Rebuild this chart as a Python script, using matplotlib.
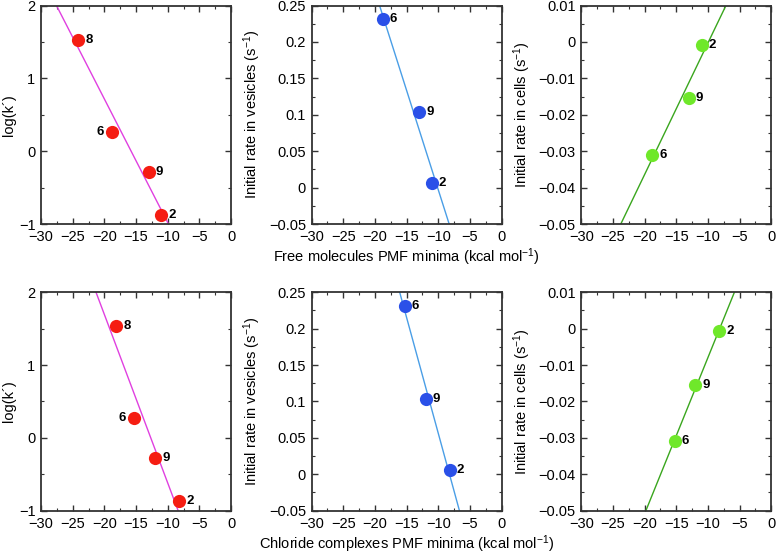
import numpy as np
import matplotlib
matplotlib.use('Agg')
from matplotlib import pyplot as plt
from matplotlib.ticker import MultipleLocator, FuncFormatter

plt.rcParams['font.family'] = ['Liberation Sans', 'DejaVu Sans']
plt.rcParams['mathtext.fontset'] = 'custom'
plt.rcParams['mathtext.rm'] = 'Liberation Sans'
plt.rcParams['mathtext.default'] = 'regular'

# compounds 2, 6, 8, 9
compounds = ['2', '6', '8', '9']
free_pmf = [-11.0, -18.8, -24.1, -13.0]
chloride_pmf = [-8.2, -15.25, -18.1, -11.95]
log_k = [-0.87, 0.27, 1.53, -0.28]
vesicle_rate = [0.006, 0.231, np.nan, 0.104]
cell_rate = [-0.0007, -0.031, np.nan, -0.0155]

row_pmf = [free_pmf, chloride_pmf]
row_xlabel = ['Free molecules PMF minima (kcal mol$^{-1}$)',
              'Chloride complexes PMF minima (kcal mol$^{-1}$)']

cols = [
    # values, ylabel, ylim, major, minor, marker colour, line colour, labels left of point
    (log_k, "log(k\u00b4)", (-1, 2), 1, 0.5, '#f51d12', '#e040e0', ['6']),
    (vesicle_rate, 'Initial rate in vesicles (s$^{-1}$)', (-0.05, 0.25), 0.05, 0.025, '#2a50e8', '#4a9ee6', []),
    (cell_rate, 'Initial rate in cells (s$^{-1}$)', (-0.05, 0.01), 0.01, 0.005, '#6fe82a', '#3aa61e', []),
]

def tickfmt(v, p):
	if abs(v) < 1e-9:
		return '0'
	return ('%g' % round(v, 6)).replace('-', '\u2212')

fmt = FuncFormatter(tickfmt)

fig = plt.figure(figsize=(7.77, 5.56), dpi=100)
lefts = [0.0528, 0.401, 0.748]
bottoms = [0.597, 0.0815]

for r in range(2):
	xs_all = np.array(row_pmf[r])
	for c, (vals, ylab, ylim, maj, mnr, mcol, lcol, leftlab) in enumerate(cols):
		ax = fig.add_axes([lefts[c], bottoms[r], 0.2445, 0.393])
		ys_all = np.array(vals)
		ok = ~np.isnan(ys_all)
		xs, ys = xs_all[ok], ys_all[ok]
		labs = [n for n, k in zip(compounds, ok) if k]

		slope, inter = np.polyfit(xs, ys, 1)
		xl = np.array([-30, 0])
		ax.plot(xl, slope * xl + inter, color=lcol, lw=1.0, zorder=2)
		ax.plot(xs, ys, 'o', color=mcol, ms=9.5, mec='none', zorder=3)
		for x, y, n in zip(xs, ys, labs):
			if n in leftlab:
				ax.annotate(n, (x, y), xytext=(-6, 0), textcoords='offset points',
				            ha='right', va='center', fontsize=9.5, weight='bold')
			else:
				ax.annotate(n, (x, y), xytext=(5, 0), textcoords='offset points',
				            ha='left', va='center', fontsize=9.5, weight='bold')

		ax.set_xlim(-30, 0)
		ax.set_ylim(ylim)
		ax.xaxis.set_major_locator(MultipleLocator(5))
		ax.xaxis.set_minor_locator(MultipleLocator(2.5))
		ax.yaxis.set_major_locator(MultipleLocator(maj))
		ax.yaxis.set_minor_locator(MultipleLocator(mnr))
		ax.xaxis.set_major_formatter(fmt)
		ax.yaxis.set_major_formatter(fmt)
		ax.tick_params(which='both', direction='in', top=True, right=True,
		               labelsize=10.5, color='#333333', pad=4.5)
		ax.tick_params(axis='y', pad=4)
		ax.tick_params(which='major', length=4.5, width=1)
		ax.tick_params(which='minor', length=2.5, width=0.8)
		for s in ax.spines.values():
			s.set_linewidth(1.3)
			s.set_color('#333333')
		ax.set_ylabel(ylab, fontsize=10.5, labelpad=4 if c else 2)
		if c == 1:
			ax.set_xlabel(row_xlabel[r], fontsize=10.5, labelpad=1.5)

plt.savefig('out.png', dpi=100)
